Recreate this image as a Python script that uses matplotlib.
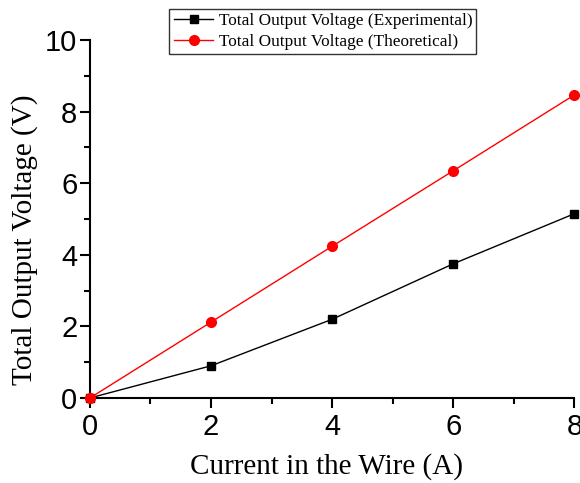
"""Total output voltage vs wire current."""
import matplotlib
matplotlib.use("Agg")
import matplotlib.pyplot as plt
from matplotlib.ticker import MultipleLocator

current = [0, 2, 4, 6, 8]
v_experimental = [0, 0.9, 2.2, 3.75, 5.15]
v_theoretical = [0, 2.12, 4.24, 6.35, 8.47]

fig = plt.figure(figsize=(5.8, 4.83), dpi=100)
ax = fig.add_axes([0.155, 0.176, 0.8355, 0.741])

ax.plot(current, v_experimental, "s-", color="black", linewidth=1.0,
        markersize=6, clip_on=False, zorder=3,
        label="Total Output Voltage (Experimental)")
ax.plot(current, v_theoretical, "o-", color="red", linewidth=1.0,
        markersize=7, clip_on=False, zorder=3,
        label="Total Output Voltage (Theoretical)")

ax.set_xlim(0, 8)
ax.set_ylim(0, 10)
ax.xaxis.set_major_locator(MultipleLocator(2))
ax.xaxis.set_minor_locator(MultipleLocator(1))
ax.yaxis.set_major_locator(MultipleLocator(2))
ax.yaxis.set_minor_locator(MultipleLocator(1))

for side in ("top", "right"):
    ax.spines[side].set_visible(False)
for side in ("left", "bottom"):
    ax.spines[side].set_linewidth(1.5)

ax.tick_params(which="major", direction="out", length=7, width=1.5,
               labelsize=21, pad=2)
ax.tick_params(axis="x", which="major", pad=4)
ax.tick_params(which="minor", direction="out", length=4, width=1.5)
for lab in ax.get_xticklabels() + ax.get_yticklabels():
    lab.set_family("Liberation Sans")

serif = {"family": "Liberation Serif", "size": 21}
ax.set_xlabel("Current in the Wire (A)", fontdict=serif)
ax.set_ylabel("Total Output Voltage (V)", fontdict=serif)
ax.xaxis.set_label_coords(0.488, -0.153)
ax.yaxis.set_label_coords(-0.134, 0.443)
ax.yaxis.label.set_va("center")

leg = ax.legend(loc="upper center", bbox_to_anchor=(0.481, 1.0866),
                prop={"family": "Liberation Serif", "size": 12.4},
                frameon=True, fancybox=False, edgecolor="black",
                borderpad=0.25, labelspacing=0.25, handlelength=2.3,
                handletextpad=0.3, borderaxespad=0)
leg.get_frame().set_linewidth(1.0)

fig.savefig("out.png", dpi=100, facecolor="white")
